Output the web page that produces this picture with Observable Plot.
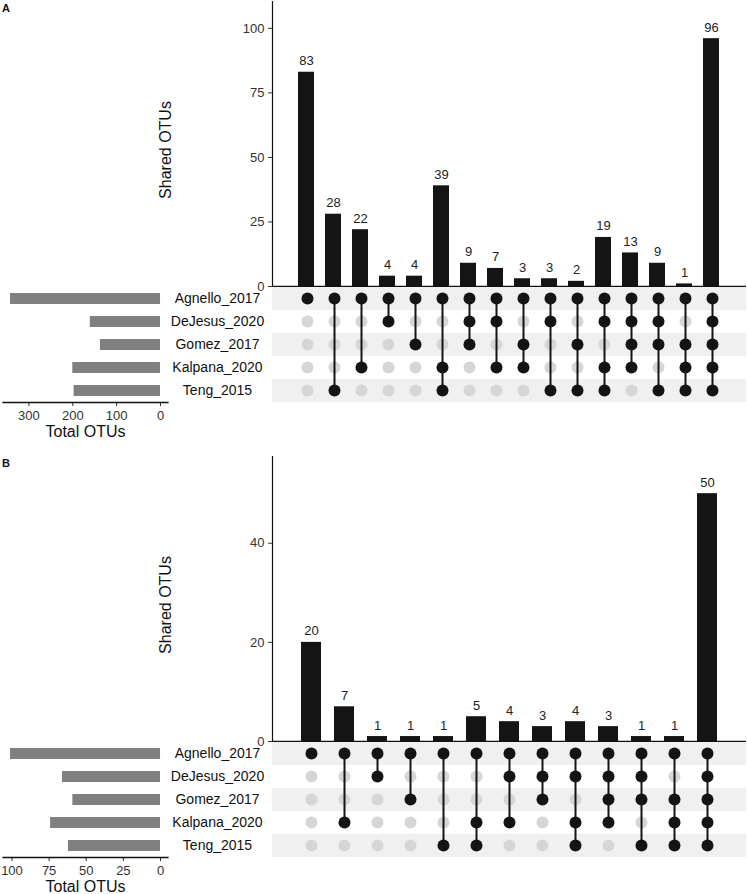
<!DOCTYPE html>
<html>
<head>
<meta charset="utf-8">
<script src="https://cdn.jsdelivr.net/npm/d3@7"></script>
<script src="https://cdn.jsdelivr.net/npm/@observablehq/plot@0.6"></script>
<style>
  body { margin: 0; background: #fff; }
  #fig { position: relative; width: 747px; height: 894px; font-family: "Liberation Sans", Arial, sans-serif; }
  #fig svg { position: absolute; }
  .tag { position: absolute; font-weight: bold; font-size: 11px; line-height: 11px; color: #111; }
</style>
</head>
<body>
<div id="fig"></div>
<script>
// ---------- data ----------
const sets = ["Agnello_2017", "DeJesus_2020", "Gomez_2017", "Kalpana_2020", "Teng_2015"];

// Panel A intersections (left to right)
const combosA = [
  ["Agnello_2017"],
  ["Agnello_2017", "Teng_2015"],
  ["Agnello_2017", "Kalpana_2020"],
  ["Agnello_2017", "DeJesus_2020"],
  ["Agnello_2017", "Gomez_2017"],
  ["Agnello_2017", "Kalpana_2020", "Teng_2015"],
  ["Agnello_2017", "DeJesus_2020", "Gomez_2017"],
  ["Agnello_2017", "DeJesus_2020", "Kalpana_2020"],
  ["Agnello_2017", "Gomez_2017", "Kalpana_2020"],
  ["Agnello_2017", "DeJesus_2020", "Teng_2015"],
  ["Agnello_2017", "Gomez_2017", "Teng_2015"],
  ["Agnello_2017", "DeJesus_2020", "Kalpana_2020", "Teng_2015"],
  ["Agnello_2017", "DeJesus_2020", "Gomez_2017", "Kalpana_2020"],
  ["Agnello_2017", "DeJesus_2020", "Gomez_2017", "Teng_2015"],
  ["Agnello_2017", "Gomez_2017", "Kalpana_2020", "Teng_2015"],
  ["Agnello_2017", "DeJesus_2020", "Gomez_2017", "Kalpana_2020", "Teng_2015"]
];
const countsA = [83, 28, 22, 4, 4, 39, 9, 7, 3, 3, 2, 19, 13, 9, 1, 96];
const totalsA = [342, 160, 137, 200, 197];
const barTicksA = [0, 25, 50, 75, 100];
const totalTicksA = [0, 100, 200, 300];

// Panel B intersections (left to right)
const combosB = [
  ["Agnello_2017"],
  ["Agnello_2017", "Kalpana_2020"],
  ["Agnello_2017", "DeJesus_2020"],
  ["Agnello_2017", "Gomez_2017"],
  ["Agnello_2017", "Teng_2015"],
  ["Agnello_2017", "Kalpana_2020", "Teng_2015"],
  ["Agnello_2017", "DeJesus_2020", "Kalpana_2020"],
  ["Agnello_2017", "DeJesus_2020", "Gomez_2017"],
  ["Agnello_2017", "DeJesus_2020", "Kalpana_2020", "Teng_2015"],
  ["Agnello_2017", "DeJesus_2020", "Gomez_2017", "Kalpana_2020"],
  ["Agnello_2017", "DeJesus_2020", "Gomez_2017", "Teng_2015"],
  ["Agnello_2017", "Gomez_2017", "Kalpana_2020", "Teng_2015"],
  ["Agnello_2017", "DeJesus_2020", "Gomez_2017", "Kalpana_2020", "Teng_2015"]
];
const countsB = [20, 7, 1, 1, 1, 5, 4, 3, 4, 3, 1, 1, 50];
const totalsB = [101, 66, 59, 74, 62];
const barTicksB = [0, 20, 40];
const totalTicksB = [0, 25, 50, 75, 100];

// ---------- layout ----------
const W = 747;
const LEFT = 272, RIGHT = 746;
const ROWH = 116;
const LEFTW = 272, LX0 = 2.5, LX1 = 167.5;
const FONT = '"Liberation Sans", Arial, sans-serif';
const baseStyle = { fontFamily: FONT, fontSize: "13px", background: "none", overflow: "visible", maxWidth: "none" };
const fig = document.getElementById("fig");

function place(el, left, top) {
  el.style.left = left + "px";
  el.style.top = top + "px";
  fig.appendChild(el);
}

function drawPanel(cfg) {
  const { combos, counts, totals, barTicks, totalTicks, tag, svgTop, frameTop, matrixTop } = cfg;
  const n = counts.length;
  const cols = counts.map((c, i) => ({ i, count: c }));
  const yMax = d3.max(counts) * 1.15;

  // Intersection size bars
  const bars = Plot.plot({
    width: W,
    height: matrixTop - svgTop + 4,
    marginLeft: LEFT, marginRight: W - RIGHT,
    marginTop: frameTop - svgTop, marginBottom: 4,
    style: baseStyle,
    x: { type: "band", domain: d3.range(n), paddingInner: 0.4, paddingOuter: 0.7, axis: null },
    y: { domain: [0, yMax] },
    marks: [
      Plot.barY(cols, { x: "i", y: "count", fill: "#141414" }),
      Plot.text(cols, { x: "i", y: "count", text: d => String(d.count), dy: -7, lineAnchor: "bottom", fontSize: 13, fill: "#222" }),
      Plot.axisY({ ticks: barTicks, tickSize: 4, tickPadding: 4, fontSize: 13, color: "#333", label: null }),
      Plot.text(["Shared OTUs"], { frameAnchor: "left", dx: -107, dy: 6, rotate: -90, textAnchor: "middle", fontSize: 16, fill: "#111" }),
      Plot.ruleY([0], { stroke: "#111", strokeWidth: 1.5 }),
      Plot.frame({ anchor: "left", stroke: "#111", strokeWidth: 1.2 })
    ]
  });
  place(bars, 0, svgTop);

  // Matrix
  const dots = [];
  combos.forEach((c, i) => sets.forEach(s => dots.push({ i, set: s, on: c.includes(s) })));
  const links = combos.map((c, i) => {
    const members = sets.filter(s => c.includes(s));
    return { i, first: members[0], last: members[members.length - 1] };
  }).filter(l => l.first !== l.last);

  const matrix = Plot.plot({
    width: W, height: ROWH,
    marginLeft: LEFT, marginRight: W - RIGHT, marginTop: 0, marginBottom: 0,
    style: baseStyle,
    x: { type: "point", domain: d3.range(n), padding: 1, axis: null },
    y: { type: "point", domain: sets, padding: 0.5, axis: null },
    marks: [
      Plot.ruleY(sets.filter((d, i) => i % 2 === 0), { stroke: "#f0f0f0", strokeWidth: ROWH / sets.length }),
      Plot.dot(dots.filter(d => !d.on), { x: "i", y: "set", r: 6, fill: "#d6d6d6", stroke: null }),
      Plot.ruleX(links, { x: "i", y1: "first", y2: "last", stroke: "#141414", strokeWidth: 2 }),
      Plot.dot(dots.filter(d => d.on), { x: "i", y: "set", r: 6, fill: "#141414", stroke: null })
    ]
  });
  place(matrix, 0, matrixTop);

  // Set size bars (left)
  const tmax = d3.max(totals);
  const totalRows = sets.map((s, k) => ({ set: s, total: totals[k] }));
  const left = Plot.plot({
    width: LEFTW, height: ROWH + 44,
    marginLeft: LX0, marginRight: LEFTW - LX1, marginTop: 0, marginBottom: 44,
    style: baseStyle,
    x: { domain: [tmax * 1.05, -tmax * 0.05] },
    y: { type: "band", domain: sets, paddingInner: 0.53, paddingOuter: 0.265, axis: null },
    marks: [
      Plot.barX(totalRows, { x: "total", y: "set", fill: "#808080" }),
      Plot.axisX({ ticks: totalTicks, tickSize: 4, tickPadding: 4, fontSize: 13, color: "#333", label: null }),
      Plot.frame({ anchor: "bottom", stroke: "#111", strokeWidth: 1.3 }),
      Plot.text(["Total OTUs"], { frameAnchor: "bottom", dy: 29, lineAnchor: "middle", fontSize: 16, fill: "#111" }),
      Plot.text(sets, { y: d => d, text: d => d, frameAnchor: "right", dx: 49.5, textAnchor: "middle", fontSize: 14, fill: "#111" })
    ]
  });
  place(left, 0, matrixTop);

  const t = document.createElement("div");
  t.className = "tag";
  t.textContent = tag;
  t.style.left = "2px";
  t.style.top = (frameTop + 1.6) + "px";
  fig.appendChild(t);
}

drawPanel({ combos: combosA, counts: countsA, totals: totalsA, barTicks: barTicksA, totalTicks: totalTicksA,
            tag: "A", svgTop: 0, frameTop: 1, matrixTop: 286 });
drawPanel({ combos: combosB, counts: countsB, totals: totalsB, barTicks: barTicksB, totalTicks: totalTicksB,
            tag: "B", svgTop: 440, frameTop: 456, matrixTop: 741 });
</script>
</body>
</html>
